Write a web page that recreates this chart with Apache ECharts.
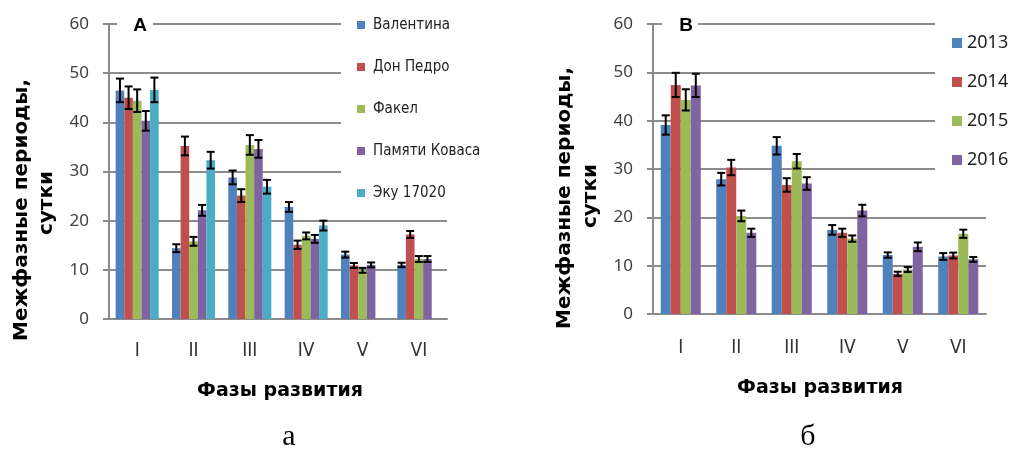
<!DOCTYPE html>
<html>
<head>
<meta charset="utf-8">
<script src="https://cdn.jsdelivr.net/npm/echarts@6/dist/echarts.min.js"></script>
<style>
  html, body { margin: 0; padding: 0; background: #fff; }
  #main { width: 1013px; height: 449px; }
</style>
</head>
<body>
<div id="main"></div>
<script>
// фазы развития
var phases = ['I', 'II', 'III', 'IV', 'V', 'VI'];
var yTicks = [0, 10, 20, 30, 40, 50, 60];

// A - сорта
var varieties = ['Валентина', 'Дон Педро', 'Факел', 'Памяти Коваса', 'Эку 17020'];
var valentina    = [46.5, 14.4, 28.8, 22.8, 13.1, 11.0];
var valentinaErr = [2.4, 0.8, 1.4, 1.0, 0.6, 0.45];
var donPedro     = [45.0, 35.2, 25.1, 15.1, 10.9, 17.2];
var donPedroErr  = [2.3, 1.9, 1.3, 0.85, 0.5, 0.7];
var fakel        = [44.4, 15.8, 35.4, 16.9, 9.9, 12.2];
var fakelErr     = [2.3, 0.9, 2.0, 0.7, 0.5, 0.6];
var kovasa       = [40.3, 22.1, 34.6, 16.3, 11.0, 12.2];
var kovasaErr    = [2.0, 1.1, 1.8, 0.8, 0.5, 0.6];
var eku          = [46.6, 32.3, 26.9, 19.0, null, null];
var ekuErr       = [2.5, 1.7, 1.4, 1.0, null, null];

// B - годы
var years = ['2013', '2014', '2015', '2016'];
var y2013    = [39.1, 27.9, 34.8, 17.4, 12.2, 11.9];
var y2013Err = [2.0, 1.3, 1.8, 1.0, 0.55, 0.7];
var y2014    = [47.4, 30.3, 26.7, 16.8, 8.3, 12.1];
var y2014Err = [2.5, 1.6, 1.4, 0.85, 0.45, 0.6];
var y2015    = [44.3, 20.3, 31.6, 15.6, 9.2, 16.6];
var y2015Err = [2.2, 1.1, 1.5, 0.65, 0.5, 0.85];
var y2016    = [47.3, 16.8, 27.0, 21.4, 13.9, 11.3];
var y2016Err = [2.4, 0.85, 1.3, 1.2, 0.9, 0.5];

var colors = ['#4F81BD', '#C0504D', '#9BBB59', '#8064A2', '#4BACC6'];
var gridColor = '#8c8c8c';
var narrow = "'Liberation Sans Narrow', 'DejaVu Sans Condensed', sans-serif";
var gapA = 0.236, gapB = 0.278;

var chart = echarts.init(document.getElementById('main'));

function errorRenderer(n, catGap) {
    return function (params, api) {
        var cat = api.value(0), k = api.value(1), v = api.value(2), e = api.value(3);
        var band = api.size([1, 0])[0];
        var barW = band * (1 - catGap) / n;
        var x = api.coord([cat, 0])[0] + (k - (n - 1) / 2) * barW;
        var yTop = api.coord([cat, v + e])[1];
        var yBot = api.coord([cat, v - e])[1];
        var cap = 4;
        var st = { stroke: '#000', lineWidth: 2 };
        return {
            type: 'group',
            children: [
                { type: 'line', shape: { x1: x, y1: yTop, x2: x, y2: yBot }, style: st },
                { type: 'line', shape: { x1: x - cap, y1: yTop, x2: x + cap, y2: yTop }, style: st },
                { type: 'line', shape: { x1: x - cap, y1: yBot, x2: x + cap, y2: yBot }, style: st }
            ]
        };
    };
}

function errData(list, errs) {
    var out = [];
    for (var k = 0; k < list.length; k++) {
        for (var i = 0; i < phases.length; i++) {
            if (list[k][i] != null) out.push([i, k, list[k][i], errs[k][i]]);
        }
    }
    return out;
}

function yAxisOpt(idx) {
    return {
        type: 'value', gridIndex: idx, min: 0, max: 60, interval: 10,
        axisLine: { show: true, lineStyle: { color: gridColor, width: 2 } },
        axisTick: { show: true, length: 6, lineStyle: { color: gridColor, width: 2 } },
        splitLine: { lineStyle: { color: gridColor, width: 2 } },
        axisLabel: {
            margin: 20, fontSize: 17, color: '#404040', fontFamily: 'Noto Sans',
            formatter: function (v) { return yTicks.indexOf(v) >= 0 ? String(v) : ''; }
        }
    };
}

function xAxisOpt(idx, margin) {
    return {
        type: 'category', gridIndex: idx, data: phases,
        axisLine: { lineStyle: { color: gridColor, width: 2 } },
        axisTick: { show: false },
        axisLabel: { margin: margin, fontSize: 19, color: '#333', fontFamily: narrow }
    };
}

var seriesA = [valentina, donPedro, fakel, kovasa, eku];
var errsA = [valentinaErr, donPedroErr, fakelErr, kovasaErr, ekuErr];
var seriesB = [y2013, y2014, y2015, y2016];
var errsB = [y2013Err, y2014Err, y2015Err, y2016Err];

var series = [];
seriesA.forEach(function (d, k) {
    series.push({
        name: varieties[k], type: 'bar', xAxisIndex: 0, yAxisIndex: 0,
        data: d.map(function (v) { return v == null ? '-' : v; }),
        barGap: '0%', barCategoryGap: (gapA * 100) + '%',
        itemStyle: { color: colors[k] }
    });
});
seriesB.forEach(function (d, k) {
    series.push({
        name: years[k], type: 'bar', xAxisIndex: 1, yAxisIndex: 1,
        data: d, barGap: '0%', barCategoryGap: (gapB * 100) + '%',
        itemStyle: { color: colors[k] }
    });
});
series.push({
    type: 'custom', xAxisIndex: 0, yAxisIndex: 0, z: 10,
    renderItem: errorRenderer(seriesA.length, gapA),
    encode: { x: 0, y: 2 }, data: errData(seriesA, errsA)
});
series.push({
    type: 'custom', xAxisIndex: 1, yAxisIndex: 1, z: 10,
    renderItem: errorRenderer(seriesB.length, gapB),
    encode: { x: 0, y: 2 }, data: errData(seriesB, errsB)
});

var yName = 'Межфазные периоды,';
var yName2 = 'сутки';
var boldFont = "'DejaVu Sans', sans-serif";

function txt(x, y, text, style, rot) {
    return {
        type: 'text', x: x, y: y, rotation: rot || 0, z: 100,
        style: Object.assign({ text: text, align: 'center', verticalAlign: 'middle', fill: '#000' }, style)
    };
}

var option = {
    animation: false,
    backgroundColor: '#fff',
    grid: [
        { left: 109, top: 24, width: 338, height: 295 },
        { left: 653, top: 24, width: 333, height: 290 }
    ],
    xAxis: [xAxisOpt(0, 23), xAxisOpt(1, 25)],
    yAxis: [yAxisOpt(0), yAxisOpt(1)],
    legend: [
        {
            data: varieties, orient: 'vertical', left: 341, top: 7,
            icon: 'rect', itemWidth: 8, itemHeight: 8, itemGap: 26,
            backgroundColor: '#fff', padding: [10, 10, 12, 16],
            textStyle: { fontFamily: narrow, fontSize: 15, lineHeight: 16, color: '#222', padding: [0, 0, 0, 3] }
        },
        {
            data: years, orient: 'vertical', left: 935, top: 14,
            icon: 'rect', itemWidth: 10, itemHeight: 10, itemGap: 21,
            backgroundColor: '#fff', padding: [20, 6, 10, 17],
            textStyle: { fontFamily: 'Noto Sans', fontSize: 18, lineHeight: 18, color: '#222' }
        }
    ],
    graphic: [
        { type: 'rect', z: 99, shape: { x: 117, y: 17, width: 36, height: 16 }, style: { fill: '#fff' } },
        { type: 'rect', z: 99, shape: { x: 662, y: 17, width: 36, height: 16 }, style: { fill: '#fff' } },
        txt(140, 26, 'A', { font: "bold 19px 'Liberation Sans'" }),
        txt(686, 26, 'B', { font: "bold 19px 'Liberation Sans'" }),
        txt(22, 210, yName, { font: 'bold 20px ' + boldFont }, Math.PI / 2),
        txt(47, 203, yName2, { font: 'bold 20px ' + boldFont }, Math.PI / 2),
        txt(565, 198, yName, { font: 'bold 20px ' + boldFont }, Math.PI / 2),
        txt(591, 196, yName2, { font: 'bold 20px ' + boldFont }, Math.PI / 2),
        txt(280, 391, 'Фазы развития', { font: 'bold 19px ' + boldFont }),
        txt(820, 388, 'Фазы развития', { font: 'bold 19px ' + boldFont }),
        txt(289, 437, 'а', { font: "30px 'Liberation Serif'" }),
        txt(808, 437, 'б', { font: "30px 'Liberation Serif'" })
    ],
    series: series
};

chart.setOption(option);
</script>
</body>
</html>
